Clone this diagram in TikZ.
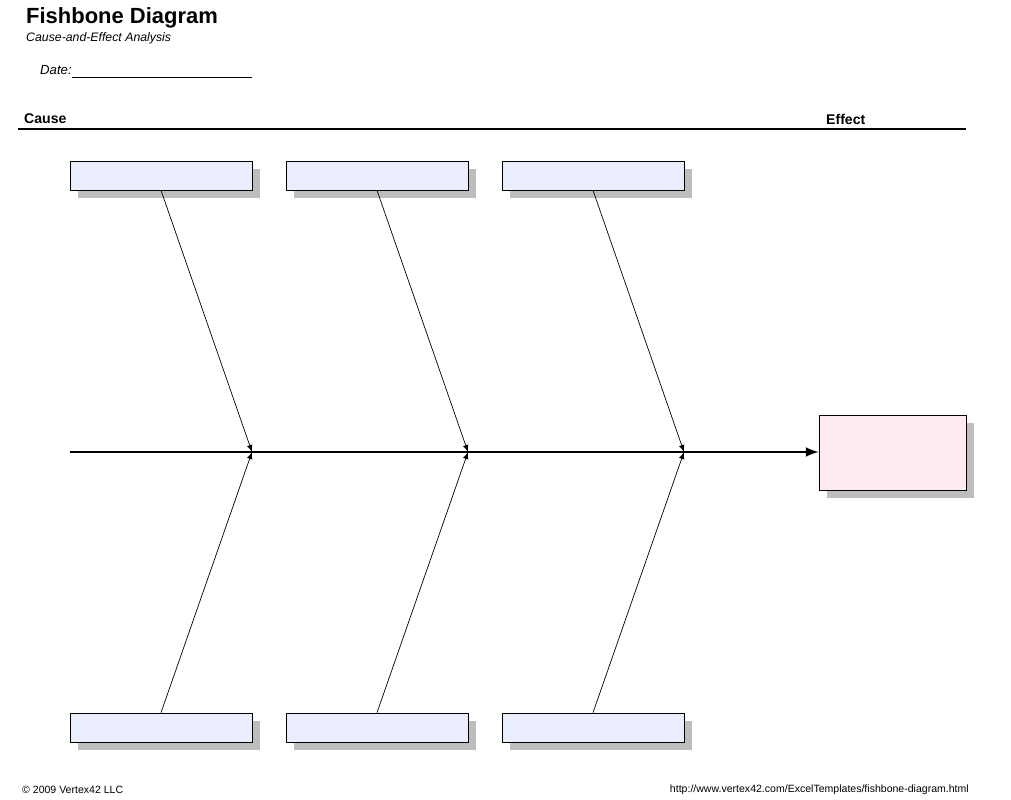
\documentclass[tikz,border=0pt]{standalone}
\usepackage{fontspec}
\setmainfont{Liberation Sans}
\usepackage{tikz}
\usetikzlibrary{positioning,shapes,arrows,calc}
\definecolor{causeblue}{RGB}{234,238,252}
\definecolor{effectpink}{RGB}{253,234,242}
\definecolor{shadowgray}{RGB}{190,190,190}

\begin{document}
\begin{tikzpicture}[x=0.02cm, y=-0.02cm]
    \tikzstyle{cause} = [rectangle, draw=black, fill=causeblue, minimum width=3.64cm, minimum height=0.58cm, inner sep=0pt]
    \tikzstyle{effect} = [rectangle, draw=black, fill=effectpink, minimum width=2.94cm, minimum height=1.5cm, inner sep=0pt]
    \tikzstyle{shadow} = [fill=shadowgray]
    \tikzstyle{bone} = [draw, thin, -latex]
    \useasboundingbox (0,0) rectangle (1011,800);

    % Title block
    \node [anchor=west, font=\bfseries\fontsize{12.5}{14}\selectfont] (title) at (20,18) {Fishbone Diagram};
    \node [anchor=west, font=\itshape\fontsize{7}{8}\selectfont] (subtitle) at (20,38) {Cause-and-Effect Analysis};
    \node [anchor=west, font=\itshape\fontsize{7.5}{9}\selectfont] (date) at (34,70) {Date:};
    \draw (72,77) -- (252,77);

    % Header line
    \node [anchor=west, font=\bfseries\fontsize{8}{9}\selectfont] (cause) at (18,119) {Cause};
    \node [anchor=west, font=\bfseries\fontsize{8}{9}\selectfont] (effecttxt) at (820,119) {Effect};
    \draw [line width=1pt] (18,129) -- (966,129);

    % Effect box
    \fill [shadow] (827,423) rectangle (974,498);
    \node [effect] (effect) at (892.5,452.5) {};

    % Spine
    \coordinate (tail) at (70,452);
    \draw [line width=1.5pt, -latex] (tail) -- (effect.west |- tail);

    % Cause boxes and bones
    \foreach \x [count=\i] in {161,377,593} {
        \fill [shadow] (\x-83,169) rectangle (\x+99,198);
        \fill [shadow] (\x-83,721) rectangle (\x+99,750);
        \node [cause] (top\i) at (\x,175.5) {};
        \node [cause] (bot\i) at (\x,727.5) {};
        \coordinate (joint\i) at (\x+91,452);
        \draw [bone] (top\i.south) -- (joint\i);
        \draw [bone] (bot\i.north) -- (joint\i);
    }

    % Footer
    \node [anchor=west, font=\fontsize{6}{7}\selectfont] (copy) at (16,790) {\textcopyright{} 2009 Vertex42 LLC};
    \node [anchor=east, font=\fontsize{6}{7}\selectfont] (url) at (975,790) {http://www.vertex42.com/ExcelTemplates/fishbone-diagram.html};
\end{tikzpicture}
\end{document}
